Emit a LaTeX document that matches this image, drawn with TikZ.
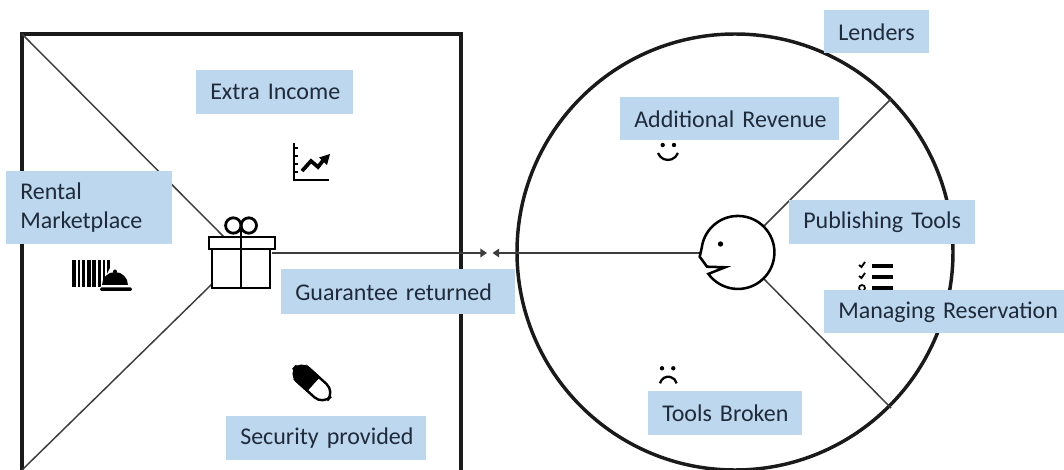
\documentclass[tikz,border=0pt]{standalone}
\usepackage{fontspec}
\setmainfont{Carlito}
\usetikzlibrary{arrows.meta}
\definecolor{lab}{HTML}{BDD7EE}
\definecolor{ink}{HTML}{1A1A1A}
\definecolor{txt}{HTML}{1F2A3A}
\tikzset{
  frame/.style={draw=ink,line width=2.6pt},
  thin/.style={draw=ink!85,line width=1.1pt},
  icon/.style={draw=black,line width=2.1pt},
  arr/.style={thin,-{Triangle[length=5pt,width=6.5pt]}},
  lab/.style={fill=lab,inner sep=0pt,anchor=north west,text=txt,font=\fontsize{18pt}{21.7pt}\selectfont},
}
\newcommand{\labl}[6]{%
  \node[lab,minimum height=#5*0.75pt-#3*0.75pt,text width=#4*0.75pt-#2*0.75pt] (#1) at (#2,#3) {\leftskip=10.5pt\rightskip=0pt plus 1fil\parfillskip=0pt plus 1fil\hyphenpenalty=10000\relax #6\par};}
\begin{document}
\begin{tikzpicture}[x=0.75pt,y=-0.75pt]
\useasboundingbox (0,0) rectangle (1064,470);
% anchors
\coordinate (sqTL) at (22,34);
\coordinate (sqTR) at (461,34);
\coordinate (sqBL) at (22,480);
\coordinate (sqBR) at (461,480);
\coordinate (giftA) at (225,238);
\coordinate (giftB) at (212,284);
\coordinate (giftC) at (272,253);
\coordinate (tipL) at (487,253);
\coordinate (tipR) at (492.5,253);
\coordinate (faceW) at (701,253);
\coordinate (faceNE) at (764,226);
\coordinate (faceSE) at (764,279);
\coordinate (rimNE) at (891,99);
\coordinate (rimSE) at (891,408);
\coordinate (cornerSW) at (22,470);
% frame and circle
\clip (0,0) rectangle (1064,470);
\draw[frame] (sqBL) -- (sqTL) -- (sqTR) -- (sqBR);
\node[circle,frame,minimum size=327pt,inner sep=0pt] (rim) at (735,252) {};
% spokes
\draw[thin] (sqTL) -- (giftA);
\draw[thin] (giftB) -- (cornerSW);
\draw[arr] (giftC) -- (tipL);
\draw[arr] (faceW) -- (tipR);
\draw[thin] (faceNE) -- (rimNE);
\draw[thin] (faceSE) -- (rimSE);
% gift
\draw[icon,fill=white] (212,249) rectangle (270,288);
\draw[icon,fill=white] (209,237) rectangle (275,249);
\draw[icon] (241,226) -- (241,288);
\draw[icon] (233.3,225.5) circle (7.7);
\draw[icon] (248.8,225.5) circle (7.7);
% face
\draw[line width=1.9pt,fill=white] (701.7,248)
  arc[start angle=187,end angle=504,radius=36.5]
  -- (725,267.3) -- (707,266.7) -- (699.7,256.7) -- cycle;
\fill (720.5,244) circle (2.7);
% chart icon
\draw[line width=1.8pt] (294,143) -- (294,180) -- (329,180);
\foreach \y in {148,156,164,172} \draw[line width=1.6pt] (294,\y) -- (298,\y);
\draw[line width=2.8pt] (302,171) -- (311,161) -- (318,167) -- (325,158);
\fill (330,154) -- (319,157.5) -- (327,165) -- cycle;
% barcode and bell
\foreach \a/\b in {72/75.7,77.7/80,81.7/85,87.3/90.7,92.3/95.7,97.7/100.7,102.7/105,107.3/110}
  \fill (\a,260) rectangle (\b,287);
\fill[white] (110,268) -- (120,268) -- (120,292) -- (98,292) -- cycle;
\fill (102,285) arc[start angle=180,end angle=360,radius=13] -- cycle;
\fill (115,271.5) circle (2);
\fill[rounded corners=1pt] (100,287.5) rectangle (132,291);
% pill
\begin{scope}[shift={(312,383)},rotate=-42]
  \draw[line width=1.8pt,fill=white,rounded corners=8.8pt] (-23,-9) rectangle (23,9);
  \fill[rounded corners=9.8pt] (-24,-10) rectangle (-4,10);
  \fill (-14,-10) rectangle (2,10);
\end{scope}
% smileys
\fill (662.7,145) circle (2.2); \fill (674,145) circle (2.2);
\draw[line width=1.7pt] (658,153) arc[start angle=160,end angle=20,radius=10.6];
\fill (662,368.3) circle (2.2); \fill (673.3,368.3) circle (2.2);
\draw[line width=1.7pt] (660,383.3) arc[start angle=193,end angle=347,radius=8.55];
% checklist
\foreach \y in {266,277} {
  \draw[line width=1.4pt] (859,\y-1) -- (861.5,\y+1) -- (865,\y-4);
}
\draw[line width=1.3pt] (862,288) circle (3);
\foreach \y in {266,277,288} \draw[line width=2.6pt] (872,\y) -- (893,\y);
% labels
\labl{extra}{196}{70}{353}{114}{Extra Income}
\labl{rental}{6}{171}{172}{244}{Rental\newline Marketplace}
\labl{guar}{281}{269}{515}{314}{Guarantee returned}
\labl{secu}{226}{416}{426}{460}{Security provided}
\labl{lend}{824}{10}{929}{53}{Lenders}
\labl{addi}{620}{97}{839}{140}{Additional Revenue}
\labl{publ}{789}{200}{975}{244}{Publishing Tools}
\labl{mana}{824}{290}{1064}{333}{Managing Reservation}
\labl{brok}{648}{391}{802}{435}{Tools Broken}
\end{tikzpicture}
\end{document}
